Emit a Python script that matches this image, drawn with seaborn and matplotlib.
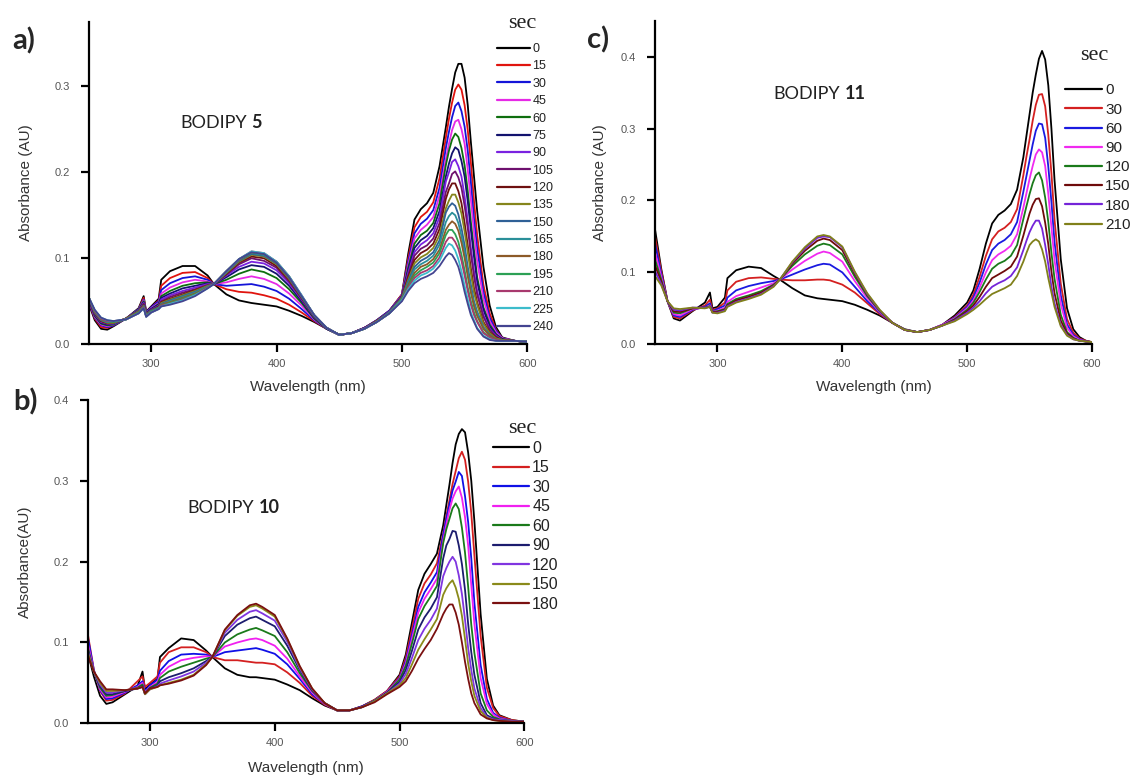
import numpy as np
import pandas as pd
import matplotlib
matplotlib.use("Agg")
import matplotlib.pyplot as plt
from matplotlib.lines import Line2D
import seaborn as sns

# ---------------- BODIPY 5 (panel a) ----------------
times_a = [0, 15, 30, 45, 60, 75, 90, 105, 120, 135, 150, 165, 180, 195, 210, 225, 240]
colors_a = ["#000000", "#e0140e", "#1414d8", "#e62ae6", "#0e6e0e", "#12126e",
            "#7a22e0", "#6e106e", "#6e1010", "#85851c", "#2f6096", "#2a8f99",
            "#8c5a28", "#2ca055", "#a8396e", "#3cbccb", "#444490"]
wl_a = [250, 255, 260, 265, 270, 280, 290, 294, 296, 300, 306, 308, 315, 325, 335,
        345, 350, 360, 370, 380, 390, 400, 410, 420, 430, 440, 450, 460, 470, 480,
        490, 500, 505, 510, 515, 520, 525, 530, 535, 537.5, 540, 542.5, 545, 547.5,
        550, 552.5, 555, 557.5, 560, 565, 570, 575, 580, 590, 600]
abs_a = [
    [.048, .050, .051, .052, .053, .053, .054, .054, .055, .055, .055, .055, .055, .055, .055, .055, .055],
    [.028, .030, .031, .032, .033, .034, .035, .036, .036, .037, .037, .038, .038, .039, .039, .040, .040],
    [.018, .020, .022, .023, .024, .025, .026, .027, .027, .028, .028, .029, .029, .030, .030, .031, .031],
    [.017, .019, .020, .021, .022, .023, .024, .024, .025, .025, .026, .026, .027, .027, .027, .028, .028],
    [.021, .022, .022, .023, .023, .024, .024, .025, .025, .025, .026, .026, .026, .026, .027, .027, .027],
    [.030, .030, .030, .030, .030, .030, .030, .030, .030, .030, .029, .029, .029, .029, .029, .029, .029],
    [.042, .041, .041, .040, .040, .039, .039, .038, .038, .038, .037, .037, .037, .037, .036, .036, .036],
    [.056, .054, .052, .051, .050, .049, .048, .047, .046, .045, .045, .044, .044, .043, .043, .042, .042],
    [.038, .037, .037, .036, .036, .035, .035, .034, .034, .034, .033, .033, .033, .033, .032, .032, .032],
    [.044, .043, .043, .042, .041, .041, .040, .040, .039, .039, .039, .038, .038, .038, .037, .037, .037],
    [.053, .051, .050, .048, .047, .046, .045, .044, .044, .043, .043, .042, .042, .042, .041, .041, .041],
    [.075, .068, .063, .059, .056, .054, .052, .050, .049, .048, .047, .046, .046, .045, .045, .044, .044],
    [.085, .077, .071, .066, .062, .059, .057, .055, .053, .052, .051, .050, .049, .048, .047, .047, .046],
    [.091, .083, .077, .072, .068, .065, .062, .060, .058, .057, .056, .055, .054, .053, .052, .051, .050],
    [.091, .084, .079, .075, .071, .068, .066, .064, .063, .062, .061, .060, .059, .058, .057, .057, .056],
    [.080, .077, .075, .073, .072, .071, .070, .069, .068, .068, .067, .067, .066, .066, .066, .065, .065],
    [.070, .070, .070, .070, .070, .070, .070, .070, .070, .070, .070, .070, .070, .070, .070, .070, .070],
    [.058, .064, .068, .072, .075, .078, .080, .081, .082, .083, .084, .084, .085, .085, .085, .085, .085],
    [.051, .061, .069, .076, .082, .087, .090, .093, .095, .096, .097, .098, .098, .099, .099, .099, .099],
    [.048, .060, .070, .079, .087, .092, .096, .100, .102, .104, .105, .106, .107, .107, .108, .108, .107],
    [.046, .057, .067, .076, .084, .090, .094, .097, .100, .102, .103, .104, .105, .105, .106, .106, .105],
    [.044, .053, .062, .070, .077, .082, .086, .089, .091, .093, .094, .095, .095, .096, .096, .096, .095],
    [.039, .046, .053, .059, .064, .068, .071, .073, .075, .076, .077, .078, .078, .079, .079, .079, .078],
    [.033, .037, .041, .045, .048, .050, .052, .053, .054, .055, .055, .056, .056, .056, .057, .057, .056],
    [.026, .027, .028, .029, .030, .031, .032, .032, .033, .033, .033, .034, .034, .034, .034, .034, .034],
    [.018, .018, .018, .018, .018, .018, .019, .019, .019, .019, .019, .019, .019, .019, .019, .019, .019],
    [.011, .011, .011, .011, .011, .011, .011, .011, .011, .011, .011, .011, .011, .011, .011, .011, .011],
    [.013, .013, .013, .013, .013, .013, .013, .013, .013, .013, .013, .013, .013, .013, .013, .013, .013],
    [.019, .019, .019, .019, .019, .019, .019, .019, .018, .018, .018, .018, .018, .018, .018, .018, .018],
    [.028, .028, .028, .027, .027, .027, .027, .027, .027, .027, .026, .026, .026, .026, .026, .026, .026],
    [.039, .039, .039, .038, .038, .038, .038, .037, .037, .037, .037, .037, .036, .036, .036, .036, .036],
    [.058, .058, .057, .057, .056, .056, .055, .055, .054, .054, .053, .053, .052, .052, .051, .051, .050],
    [.105, .100, .096, .092, .089, .086, .083, .080, .078, .075, .073, .071, .069, .067, .066, .064, .062],
    [.145, .136, .129, .123, .117, .112, .107, .103, .098, .094, .090, .087, .083, .080, .077, .074, .071],
    [.157, .148, .140, .133, .127, .121, .116, .111, .106, .101, .097, .093, .090, .086, .083, .080, .076],
    [.164, .154, .146, .139, .132, .126, .121, .115, .110, .105, .101, .097, .093, .090, .086, .083, .079],
    [.176, .165, .156, .148, .141, .135, .129, .123, .117, .112, .107, .103, .099, .095, .091, .088, .083],
    [.207, .193, .182, .173, .164, .155, .148, .141, .134, .127, .121, .116, .110, .106, .101, .097, .091],
    [.252, .240, .228, .215, .208, .195, .189, .177, .169, .158, .153, .142, .133, .127, .119, .112, .102],
    [.276, .262, .247, .233, .225, .210, .200, .187, .180, .167, .160, .149, .139, .133, .124, .117, .106],
    [.297, .281, .264, .249, .238, .222, .212, .198, .187, .174, .164, .153, .143, .133, .124, .115, .104],
    [.316, .296, .277, .259, .245, .229, .215, .201, .187, .174, .161, .150, .140, .128, .119, .109, .098],
    [.326, .302, .281, .261, .241, .226, .207, .194, .178, .165, .151, .141, .132, .119, .111, .099, .090],
    [.326, .296, .271, .250, .228, .213, .195, .182, .164, .152, .135, .126, .118, .104, .097, .085, .077],
    [.310, .278, .253, .233, .208, .195, .172, .161, .141, .131, .115, .107, .100, .086, .080, .068, .061],
    [.278, .249, .225, .203, .178, .166, .144, .135, .115, .107, .090, .084, .079, .066, .062, .052, .047],
    [.235, .211, .188, .168, .142, .133, .112, .105, .088, .082, .069, .064, .060, .050, .046, .037, .034],
    [.195, .166, .146, .130, .109, .102, .085, .079, .065, .060, .050, .047, .044, .037, .034, .028, .026],
    [.155, .127, .112, .097, .078, .073, .062, .058, .049, .046, .038, .036, .033, .027, .026, .019, .018],
    [.090, .069, .061, .053, .043, .040, .034, .032, .026, .024, .020, .019, .018, .014, .013, .010, .009],
    [.045, .036, .031, .027, .023, .021, .018, .017, .014, .013, .011, .010, .010, .008, .008, .006, .005],
    [.020, .017, .016, .014, .012, .011, .010, .009, .008, .007, .006, .006, .006, .005, .005, .004, .004],
    [.008, .007, .007, .007, .006, .006, .005, .005, .005, .005, .004, .004, .004, .004, .004, .004, .004],
    [.004, .004, .004, .004, .004, .004, .004, .004, .004, .004, .004, .004, .004, .004, .004, .004, .004],
    [.003, .003, .003, .003, .003, .003, .003, .003, .003, .003, .003, .003, .003, .003, .003, .003, .003],
]

# ---------------- BODIPY 10 (panel b) ----------------
times_b = [0, 15, 30, 45, 60, 90, 120, 150, 180]
colors_b = ["#000000", "#d42020", "#1010e6", "#f020f0", "#1a7a1a", "#1c1c6e",
            "#8035e0", "#8a8a1a", "#7a1010"]
wl_b = [250, 255, 260, 265, 270, 280, 290, 294, 296, 300, 306, 308, 315, 325, 335,
        345, 350, 360, 370, 380, 385, 390, 400, 410, 420, 430, 440, 450, 460, 470,
        480, 490, 500, 505, 510, 515, 520, 525, 530, 535, 537.5, 540, 542.5, 545,
        547.5, 550, 552.5, 555, 557.5, 560, 565, 570, 575, 580, 590, 600]
abs_b = [
    [.088, .112, .108, .100, .095, .092, .090, .088, .085],
    [.058, .066, .066, .065, .064, .064, .064, .064, .064],
    [.034, .040, .041, .042, .044, .046, .048, .050, .052],
    [.024, .028, .030, .032, .034, .036, .038, .040, .042],
    [.026, .029, .031, .033, .035, .036, .038, .040, .042],
    [.036, .037, .038, .039, .040, .040, .041, .041, .041],
    [.046, .052, .047, .045, .044, .043, .043, .043, .043],
    [.064, .058, .052, .050, .048, .046, .045, .045, .045],
    [.042, .045, .040, .038, .037, .036, .036, .036, .037],
    [.048, .050, .047, .045, .044, .043, .042, .042, .043],
    [.055, .058, .054, .051, .049, .047, .046, .045, .045],
    [.082, .075, .065, .060, .056, .052, .049, .047, .047],
    [.093, .088, .077, .070, .064, .057, .053, .050, .049],
    [.105, .094, .085, .078, .070, .062, .058, .054, .053],
    [.103, .094, .086, .081, .075, .068, .064, .060, .059],
    [.090, .088, .085, .083, .080, .077, .075, .073, .072],
    [.082, .082, .082, .082, .082, .082, .082, .082, .082],
    [.068, .078, .088, .095, .100, .108, .112, .115, .116],
    [.060, .078, .090, .100, .110, .122, .128, .133, .134],
    [.057, .076, .092, .104, .116, .130, .138, .144, .146],
    [.057, .075, .093, .105, .118, .132, .140, .146, .148],
    [.056, .075, .091, .103, .115, .128, .136, .142, .144],
    [.054, .073, .086, .096, .108, .120, .127, .132, .134],
    [.048, .063, .073, .080, .088, .096, .101, .104, .105],
    [.041, .050, .055, .058, .062, .066, .068, .070, .071],
    [.031, .034, .036, .038, .040, .041, .042, .043, .043],
    [.022, .023, .024, .024, .025, .025, .025, .025, .025],
    [.016, .016, .016, .016, .016, .016, .016, .016, .016],
    [.016, .016, .016, .016, .016, .016, .016, .016, .016],
    [.021, .021, .021, .020, .020, .020, .020, .020, .020],
    [.029, .029, .028, .028, .028, .027, .027, .027, .026],
    [.040, .040, .039, .039, .038, .038, .037, .037, .036],
    [.060, .058, .056, .055, .054, .051, .049, .047, .045],
    [.085, .081, .077, .074, .071, .066, .061, .056, .052],
    [.125, .117, .110, .105, .099, .090, .081, .073, .065],
    [.165, .154, .144, .137, .129, .116, .103, .091, .080],
    [.185, .173, .162, .154, .145, .131, .117, .104, .092],
    [.197, .184, .174, .166, .157, .142, .128, .116, .103],
    [.210, .198, .187, .179, .170, .156, .142, .129, .117],
    [.245, .235, .233, .226, .223, .204, .182, .159, .135],
    [.270, .256, .253, .246, .240, .220, .192, .167, .142],
    [.295, .276, .271, .264, .253, .228, .200, .173, .147],
    [.322, .296, .288, .278, .266, .238, .206, .177, .147],
    [.345, .312, .299, .287, .272, .237, .200, .168, .137],
    [.358, .328, .311, .293, .265, .220, .183, .154, .122],
    [.364, .336, .306, .279, .242, .197, .160, .133, .100],
    [.360, .326, .281, .255, .211, .165, .128, .104, .076],
    [.335, .299, .249, .220, .169, .123, .093, .074, .055],
    [.300, .260, .204, .171, .122, .088, .066, .052, .037],
    [.250, .208, .149, .123, .087, .060, .043, .034, .025],
    [.135, .108, .072, .056, .037, .025, .019, .015, .011],
    [.055, .044, .030, .024, .016, .010, .008, .007, .006],
    [.022, .019, .013, .011, .008, .006, .005, .004, .004],
    [.010, .009, .007, .006, .005, .004, .004, .003, .003],
    [.004, .004, .003, .003, .003, .003, .003, .002, .002],
    [.002, .002, .002, .002, .002, .002, .002, .002, .002],
]

# ---------------- BODIPY 11 (panel c) ----------------
times_c = [0, 30, 60, 90, 120, 150, 180, 210]
colors_c = ["#000000", "#d42020", "#1a1ae0", "#f02af0", "#1a7a1a", "#6e0a0a",
            "#7424d8", "#80801a"]
wl_c = [250, 255, 260, 265, 270, 280, 290, 294, 296, 300, 306, 308, 315, 325, 335,
        345, 350, 360, 370, 380, 385, 390, 400, 410, 420, 430, 440, 450, 460, 470,
        480, 490, 500, 505, 510, 515, 520, 525, 530, 535, 540, 545, 547.5, 550,
        552.5, 555, 557.5, 560, 562.5, 565, 567.5, 570, 575, 580, 585, 590, 595, 600]
abs_c = [
    [.160, .150, .140, .128, .118, .110, .102, .095],
    [.105, .102, .098, .094, .090, .087, .084, .082],
    [.060, .060, .060, .060, .060, .060, .060, .060],
    [.036, .038, .040, .042, .044, .046, .048, .050],
    [.033, .036, .038, .040, .043, .045, .047, .049],
    [.046, .047, .048, .049, .050, .050, .051, .051],
    [.058, .054, .052, .051, .051, .051, .051, .050],
    [.072, .062, .057, .054, .053, .052, .052, .052],
    [.050, .048, .046, .045, .045, .045, .044, .044],
    [.052, .050, .049, .047, .046, .045, .044, .043],
    [.065, .058, .054, .051, .049, .048, .047, .046],
    [.092, .075, .065, .059, .056, .054, .053, .052],
    [.103, .087, .075, .067, .063, .061, .059, .058],
    [.108, .092, .081, .073, .068, .066, .064, .063],
    [.106, .093, .085, .079, .074, .072, .070, .069],
    [.095, .091, .088, .085, .083, .082, .081, .080],
    [.090, .090, .090, .090, .090, .090, .090, .090],
    [.078, .089, .097, .104, .109, .112, .114, .115],
    [.068, .089, .104, .116, .125, .130, .133, .135],
    [.064, .090, .110, .126, .137, .144, .148, .150],
    [.063, .090, .112, .129, .140, .147, .150, .152],
    [.062, .089, .111, .127, .138, .145, .149, .150],
    [.060, .083, .100, .115, .125, .131, .135, .136],
    [.055, .072, .080, .088, .094, .098, .100, .101],
    [.048, .057, .060, .064, .067, .069, .070, .071],
    [.040, .042, .044, .045, .046, .047, .047, .048],
    [.030, .030, .030, .030, .030, .030, .030, .030],
    [.021, .020, .020, .020, .020, .020, .020, .020],
    [.017, .017, .017, .017, .017, .017, .017, .017],
    [.020, .020, .020, .020, .020, .020, .020, .020],
    [.027, .027, .027, .027, .026, .026, .026, .026],
    [.040, .038, .037, .036, .035, .034, .033, .032],
    [.058, .054, .052, .050, .048, .046, .044, .042],
    [.075, .069, .065, .061, .058, .054, .051, .048],
    [.105, .094, .086, .079, .073, .066, .060, .055],
    [.140, .123, .111, .100, .090, .080, .071, .063],
    [.168, .146, .131, .117, .105, .092, .080, .070],
    [.180, .157, .140, .125, .112, .097, .085, .074],
    [.186, .162, .145, .130, .116, .102, .089, .078],
    [.195, .170, .153, .137, .123, .108, .095, .083],
    [.215, .188, .170, .153, .138, .122, .107, .095],
    [.260, .235, .212, .190, .174, .151, .131, .115],
    [.290, .261, .234, .210, .192, .167, .144, .127],
    [.320, .285, .256, .230, .209, .182, .156, .138],
    [.350, .311, .278, .248, .224, .194, .165, .143],
    [.375, .333, .297, .264, .235, .202, .172, .146],
    [.397, .347, .307, .271, .239, .203, .172, .143],
    [.408, .348, .306, .267, .228, .192, .161, .132],
    [.396, .331, .287, .248, .204, .169, .138, .115],
    [.360, .291, .247, .209, .170, .139, .111, .092],
    [.300, .238, .198, .163, .127, .101, .080, .072],
    [.228, .173, .142, .117, .091, .071, .057, .052],
    [.118, .084, .068, .056, .041, .033, .027, .025],
    [.050, .035, .028, .023, .017, .015, .013, .012],
    [.021, .016, .013, .011, .009, .008, .007, .007],
    [.010, .008, .007, .006, .005, .005, .005, .005],
    [.005, .005, .004, .004, .004, .004, .004, .004],
    [.003, .003, .003, .003, .003, .003, .003, .003],
]

# ---------------- styling ----------------
sns.set_style("ticks")
plt.rcParams["font.family"] = ["Liberation Sans", "DejaVu Sans"]
plt.rcParams.update({
    "axes.linewidth": 1.6,
    "axes.edgecolor": "black",
    "xtick.major.size": 6,
    "ytick.major.size": 6,
    "xtick.major.width": 1.6,
    "ytick.major.width": 1.6,
    "xtick.color": "black",
    "ytick.color": "black",
    "xtick.labelcolor": "#555555",
    "ytick.labelcolor": "#555555",
    "xtick.labelsize": 8,
    "ytick.labelsize": 8,
    "xtick.major.pad": 4.5,
    "ytick.major.pad": 7.5,
})

W, H = 1134, 778
fig = plt.figure(figsize=(W / 100, H / 100), dpi=100)


def fpos(x, y):
    return x / W, 1 - y / H


def draw_panel(rect, wl, times, table, colors, ymax, yticks, ylabel, ylab_x,
               xlab_y, tag, tag_xy, num, name_xy, leg_xy, leg_fs,
               leg_hl, leg_ls, sec_xy):
    ax = fig.add_axes(rect)
    frame = pd.DataFrame(table, columns=times)
    frame["wl"] = wl
    long = frame.melt(id_vars="wl", var_name="sec", value_name="A")
    sns.lineplot(data=long, x="wl", y="A", hue="sec", hue_order=times,
                 palette=dict(zip(times, colors)), estimator=None, sort=False,
                 linewidth=1.3, legend=False, ax=ax)
    ax.set_xlim(250, 600)
    ax.set_ylim(0, ymax)
    ax.set_xticks([300, 400, 500, 600])
    ax.set_yticks(yticks)
    ax.set_yticklabels([f"{v:.1f}" for v in yticks])
    sns.despine(ax=ax)
    ax.set_xlabel("Wavelength (nm)", fontsize=11, color="#333333")
    ax.set_ylabel(ylabel, fontsize=11, color="#333333")
    ax.xaxis.set_label_coords(0.5, xlab_y)
    ax.yaxis.set_label_coords(ylab_x, 0.5)

    fig.text(*fpos(*tag_xy), tag, fontsize=21, fontweight="bold",
             family="Lato", va="baseline", ha="left")
    t = fig.text(*fpos(*name_xy), "BODIPY", fontsize=13, family="Lato",
                 va="baseline", ha="left", color="#222222")
    ax.annotate(num, xy=(1, 0), xycoords=t, xytext=(3.5, 0),
                textcoords="offset points", fontsize=13, family="Lato",
                fontweight="bold", va="bottom", ha="left", color="#222222")

    handles = [Line2D([], [], color=c, lw=1.6) for c in colors]
    ax.legend(handles, [str(s) for s in times], loc="upper left",
              bbox_to_anchor=fpos(*leg_xy), bbox_transform=fig.transFigure,
              frameon=False, fontsize=leg_fs, handlelength=leg_hl,
              handletextpad=0.2, labelspacing=leg_ls, borderpad=0,
              borderaxespad=0, labelcolor="#222222")
    fig.text(*fpos(*sec_xy), "sec", fontsize=16, family="Liberation Serif",
             va="baseline", ha="center", color="#222222")
    return ax


draw_panel([88.5 / W, 1 - 344.3 / H, 438.8 / W, 322.6 / H], wl_a, times_a, abs_a,
           colors_a, 0.375, [0.0, 0.1, 0.2, 0.3], "Absorbance (AU)", -0.126,
           -0.11, "a)", (12, 49), "5", (180, 127.7),
           (497, 43), 9, 2.64, 0.43, (522, 28.3))

draw_panel([87.6 / W, 1 - 723.3 / H, 436.7 / W, 323.3 / H], wl_b, times_b, abs_b,
           colors_b, 0.4, [0.0, 0.1, 0.2, 0.3, 0.4], "Absorbance(AU)", -0.127,
           -0.117, "b)", (13, 410), "10", (187, 513.3),
           (493, 441), 11.5, 2.25, 0.28, (522, 433.3))

draw_panel([655 / W, 1 - 344.3 / H, 437 / W, 323.6 / H], wl_c, times_c, abs_c,
           colors_c, 0.45, [0.0, 0.1, 0.2, 0.3, 0.4], "Absorbance (AU)", -0.11,
           -0.11, "c)", (587, 48), "11", (773, 99.3),
           (1065, 83.5), 11, 2.42, 0.34, (1094, 60))

fig.savefig("out.png", dpi=100)
